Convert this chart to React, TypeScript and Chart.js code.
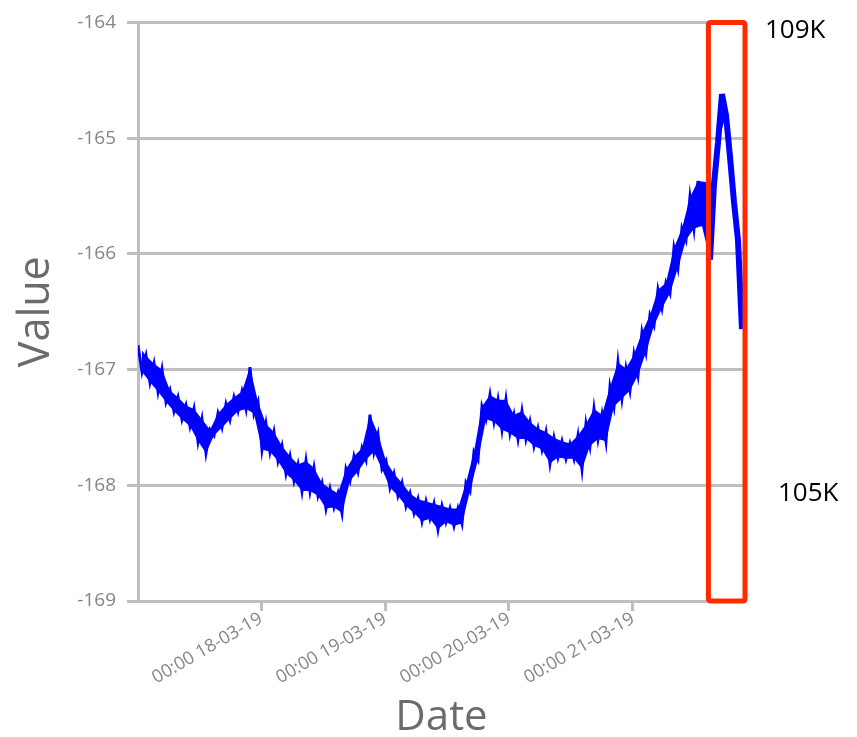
import React, { useEffect, useRef } from "react";
import { Chart, registerables } from "chart.js";

Chart.register(...registerables);

// Time axis in hours since 00:00 17-03-19
const X_MIN_HOURS = 0.19;
const X_MAX_HOURS = 117.68;
const SAMPLE_START_HOURS = 0.19;
const SAMPLE_STEP_HOURS = 0.7742; // one sample every 0.7742 h, upper and lower envelope interleaved

const TICK_HOURS = [24, 48, 72, 96];
const TICK_LABELS = ["00:00 18-03-19", "00:00 19-03-19", "00:00 20-03-19", "00:00 21-03-19"];

const Y_MIN = -169;
const Y_MAX = -164;

// Upper edge of the noisy band (even samples)
const UPPER_VALUES = [
  -166.79, -166.88, -166.95, -167.0, -167.18, -167.24, -167.31, -167.34, -167.43, -167.52,
  -167.38, -167.3, -167.24, -167.19, -166.98, -167.28, -167.47, -167.54, -167.66, -167.75,
  -167.82, -167.79, -167.85, -167.98, -168.03, -168.07, -167.86, -167.75, -167.68, -167.39,
  -167.56, -167.79, -167.9, -167.98, -168.07, -168.12, -168.14, -168.16, -168.18, -168.2,
  -168.2, -167.98, -167.71, -167.32, -167.22, -167.26, -167.26, -167.39, -167.36, -167.45,
  -167.51, -167.54, -167.59, -167.62, -167.64, -167.57, -167.47, -167.34, -167.39, -167.15,
  -166.94, -166.99, -166.87, -166.68, -166.53, -166.31, -166.25, -165.95, -165.78, -165.51,
  -165.37, -165.38, -165.4, -164.62, -165.16, -165.88,
];

// Lower edge of the noisy band (odd samples)
const LOWER_VALUES = [
  -167.02, -167.11, -167.19, -167.28, -167.36, -167.43, -167.49, -167.62, -167.72, -167.57,
  -167.5, -167.43, -167.36, -167.34, -167.38, -167.69, -167.71, -167.79, -167.9, -167.96,
  -168.05, -168.05, -168.09, -168.2, -168.19, -168.24, -167.96, -167.88, -167.78, -167.71,
  -167.86, -168.02, -168.09, -168.18, -168.24, -168.31, -168.29, -168.38, -168.32, -168.35,
  -168.33, -168.05, -167.78, -167.43, -167.45, -167.52, -167.55, -167.6, -167.6, -167.66,
  -167.69, -167.81, -167.76, -167.77, -167.77, -167.86, -167.66, -167.6, -167.62, -167.32,
  -167.25, -167.18, -167.05, -166.85, -166.62, -166.47, -166.34, -166.12, -165.88, -165.78,
  -165.76, -166.05, -165.04, -164.8, -165.55, -166.65,
];

// Highlighted window (hours) and its annotations
const HIGHLIGHT_START_HOURS = 110.6;
const HIGHLIGHT_END_HOURS = 117.68;
const ANNOTATION_TEXTS = ["109K", "105K"];
const ANNOTATION_VALUES = [-164.07, -168.07];
const ANNOTATION_OFFSETS = [20, 33];

const GRID = "#bfbfbf";
const TICK_COLOR = "#858585";
const TITLE_COLOR = "#6b6b6b";
const LINE = "#0000ff";
const FONT = "'Open Sans', 'DejaVu Sans', sans-serif";

const overlayPlugin = {
  id: "overlay",
  afterDatasetsDraw(chart: any) {
    const { ctx, chartArea, scales } = chart;
    const xs = scales.x;
    const ys = scales.y;
    const x1 = xs.getPixelForValue(HIGHLIGHT_START_HOURS);
    const x2 = xs.getPixelForValue(HIGHLIGHT_END_HOURS);
    const y1 = ys.getPixelForValue(Y_MAX);
    const y2 = ys.getPixelForValue(Y_MIN);
    ctx.save();
    ctx.strokeStyle = "#ff2a00";
    ctx.lineWidth = 5;
    ctx.lineJoin = "round";
    ctx.beginPath();
    if (ctx.roundRect) ctx.roundRect(x1, y1, x2 - x1, y2 - y1, 2);
    else ctx.rect(x1, y1, x2 - x1, y2 - y1);
    ctx.stroke();

    ctx.fillStyle = "#000000";
    ctx.font = `26px ${FONT}`;
    ctx.textAlign = "left";
    ctx.textBaseline = "middle";
    ANNOTATION_TEXTS.forEach((t, i) => {
      ctx.fillText(t, chartArea.right + ANNOTATION_OFFSETS[i], ys.getPixelForValue(ANNOTATION_VALUES[i]));
    });
    ctx.restore();
  },
};

export default function App() {
  const ref = useRef<HTMLCanvasElement | null>(null);

  useEffect(() => {
    if (!ref.current) return;
    const upper = UPPER_VALUES.map((v, i) => ({ x: SAMPLE_START_HOURS + 2 * i * SAMPLE_STEP_HOURS, y: v }));
    const lower = LOWER_VALUES.map((v, i) => ({ x: SAMPLE_START_HOURS + (2 * i + 1) * SAMPLE_STEP_HOURS, y: v }));
    // full noisy trace: upper and lower samples interleaved in time order
    const trace: { x: number; y: number }[] = [];
    for (let i = 0; i < UPPER_VALUES.length; i++) {
      trace.push(upper[i]);
      if (i < lower.length) trace.push(lower[i]);
    }
    const inWindow = (c: any) => c.p0.parsed.x >= HIGHLIGHT_START_HOURS - 1;
    const chart = new Chart(ref.current, {
      type: "line",
      data: {
        datasets: [
          {
            data: upper,
            borderColor: LINE,
            borderWidth: 0,
            pointRadius: 0,
            tension: 0,
            fill: false,
          },
          {
            data: lower,
            borderColor: LINE,
            backgroundColor: LINE,
            borderWidth: 0,
            pointRadius: 0,
            tension: 0,
            fill: "-1",
          },
          {
            data: trace,
            borderColor: LINE,
            borderWidth: 3,
            borderJoinStyle: "miter",
            pointRadius: 0,
            tension: 0,
            fill: false,
            segment: {
              borderWidth: (c: any) => (inWindow(c) ? 6 : 3),
              borderJoinStyle: (c: any) => (inWindow(c) ? "bevel" : "miter"),
            },
          },
        ],
      },
      options: {
        animation: false,
        responsive: false,
        events: [],
        layout: { padding: { left: 0, right: 112, top: 17, bottom: 0 } },
        plugins: { legend: { display: false }, tooltip: { enabled: false } },
        scales: {
          x: {
            type: "linear",
            min: X_MIN_HOURS,
            max: X_MAX_HOURS,
            afterBuildTicks: (scale: any) => {
              scale.ticks = TICK_HOURS.map((v) => ({ value: v }));
            },
            afterFit: (scale: any) => {
              scale.height = 136;
            },
            ticks: {
              autoSkip: false,
              minRotation: 30,
              maxRotation: 30,
              padding: -3,
              color: TICK_COLOR,
              font: { family: FONT, size: 18 },
              callback: (value: any) => {
                const idx = TICK_HOURS.indexOf(Number(value));
                return idx >= 0 ? TICK_LABELS[idx] : "";
              },
            },
            grid: {
              drawOnChartArea: false,
              drawTicks: true,
              tickLength: 10,
              color: GRID,
              lineWidth: 3,
            },
            border: { color: GRID, width: 3 },
            title: {
              display: true,
              text: "Date",
              color: TITLE_COLOR,
              font: { family: FONT, size: 42, lineHeight: 0.9 },
              padding: { top: 0, bottom: 0 },
            },
          },
          y: {
            type: "linear",
            min: Y_MIN,
            max: Y_MAX,
            afterFit: (scale: any) => {
              scale.width = 138;
            },
            ticks: {
              stepSize: 1,
              padding: 11,
              color: TICK_COLOR,
              font: { family: FONT, size: 19 },
            },
            grid: {
              color: GRID,
              lineWidth: 3,
              tickLength: 11,
            },
            border: { color: GRID, width: 3 },
            title: {
              display: true,
              text: "Value",
              color: TITLE_COLOR,
              font: { family: FONT, size: 43, lineHeight: 1.2 },
              padding: { top: 11, bottom: 0 },
            },
          },
        },
      },
      plugins: [overlayPlugin],
    });
    return () => chart.destroy();
  }, []);

  return (
    <canvas
      ref={ref}
      width={857}
      height={737}
      style={{ position: "fixed", left: 0, top: 0, width: 857, height: 737, display: "block" }}
    />
  );
}
